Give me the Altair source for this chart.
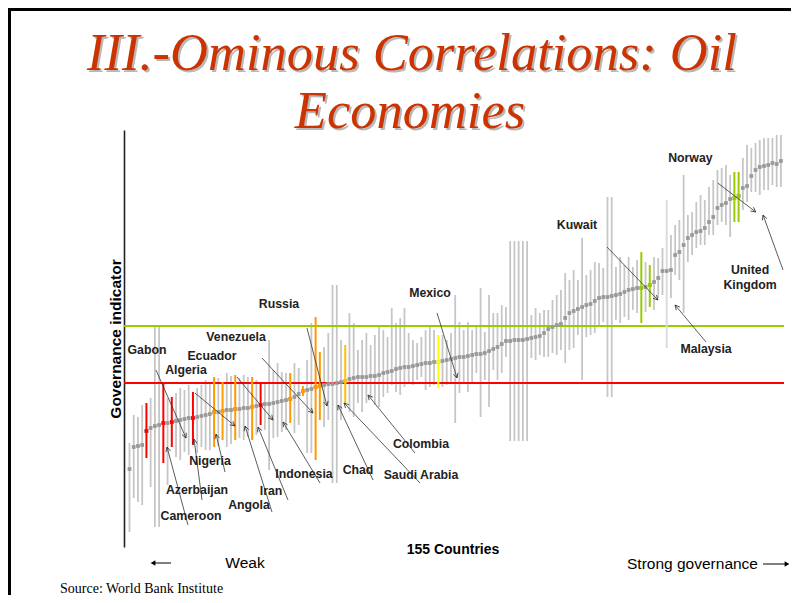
import math
import altair as alt
import pandas as pd

# ---------------- data (governance estimate and its confidence band, 155 countries ranked) -------------
gov = [
    -1.29, -1.07, -1.06, -1.05, -0.91, -0.88, -0.86, -0.85, -0.83, -0.83,
    -0.82, -0.81, -0.80, -0.79, -0.78, -0.78, -0.77, -0.76, -0.75, -0.74,
    -0.72, -0.72, -0.71, -0.70, -0.70, -0.69, -0.69, -0.68, -0.68, -0.67,
    -0.66, -0.65, -0.64, -0.64, -0.63, -0.62, -0.61, -0.60, -0.59, -0.57,
    -0.54, -0.51, -0.50, -0.49, -0.47, -0.46, -0.45, -0.44, -0.44, -0.43,
    -0.42, -0.41, -0.39, -0.38, -0.37, -0.37, -0.37, -0.36, -0.36, -0.35,
    -0.33, -0.32, -0.31, -0.29, -0.28, -0.27, -0.27, -0.26, -0.25, -0.24,
    -0.23, -0.23, -0.22, -0.22, -0.21, -0.20, -0.19, -0.18, -0.17, -0.17,
    -0.16, -0.15, -0.14, -0.14, -0.13, -0.11, -0.09, -0.07, -0.04, -0.01,
    -0.01, 0.00, 0.00, 0.00, 0.01, 0.02, 0.03, 0.04, 0.07, 0.11,
    0.13, 0.15, 0.16, 0.22, 0.27, 0.29, 0.31, 0.33, 0.35, 0.36,
    0.39, 0.42, 0.43, 0.43, 0.44, 0.45, 0.46, 0.48, 0.50, 0.51,
    0.52, 0.52, 0.53, 0.55, 0.58, 0.62, 0.69, 0.69, 0.70, 0.85,
    0.88, 0.95, 1.02, 1.05, 1.08, 1.09, 1.12, 1.18, 1.23, 1.32,
    1.35, 1.37, 1.41, 1.42, 1.44, 1.52, 1.54, 1.64, 1.70, 1.73,
    1.74, 1.75, 1.77, 1.76, 1.79,
]
upper = [
    -1.03, -0.75, -0.77, -0.65, -0.63, -0.58, 0.13, 0.13, -0.43, -0.58,
    -0.57, -0.53, -0.48, -0.50, -0.45, -0.52, -0.48, -0.45, -0.40, -0.43,
    -0.37, -0.38, -0.42, -0.33, -0.36, -0.35, -0.38, -0.35, -0.37, -0.37,
    -0.40, -0.43, -0.43, 0.00, -0.30, -0.23, -0.32, -0.33, -0.33, -0.23,
    -0.28, -0.46, -0.20, 0.17, 0.23, -0.12, -0.07, 0.07, 0.55, 0.55,
    0.00, -0.05, 0.27, 0.17, -0.10, 0.00, 0.07, -0.05, 0.05, 0.13,
    0.10, 0.03, 0.32, 0.17, 0.22, 0.32, 0.07, 0.00, -0.03, 0.03,
    0.10, 0.13, 0.10, 0.05, 0.05, 0.00, 0.07, 0.45, 0.18, 0.10,
    0.18, 0.10, 0.13, 0.52, 0.08, 0.45, 0.27, 0.27, 0.35, 0.33,
    0.99, 0.99, 0.99, 0.99, 0.99, 0.25, 0.32, 0.27, 0.30, 0.30,
    0.40, 0.45, 0.50, 0.67, 0.60, 0.70, 0.60, 1.02, 0.65, 0.70,
    0.78, 0.77, 0.72, 1.43, 1.43, 0.73, 0.83, 0.75, 0.83, 0.73,
    0.80, 0.88, 0.78, 0.75, 0.83, 0.82, 0.92, 1.40, 1.05, 1.15,
    1.20, 1.65, 1.25, 1.28, 1.38, 1.45, 1.40, 1.53, 1.60, 1.70,
    1.72, 1.75, 1.65, 1.68, 1.68, 1.82, 1.95, 1.92, 1.97, 2.00,
    2.02, 2.02, 2.02, 2.05, 2.05,
]
lower = [
    -1.92, -1.58, -1.62, -1.65, -1.18, -1.47, -1.87, -1.87, -1.23, -1.45,
    -1.07, -1.17, -1.20, -1.12, -1.15, -1.05, -1.13, -1.07, -1.10, -1.10,
    -1.07, -1.06, -1.00, -1.07, -1.04, -1.00, -0.98, -1.00, -0.97, -1.00,
    -0.95, -0.85, -0.90, -1.30, -0.98, -0.97, -0.92, -0.90, -0.83, -0.93,
    -0.85, -0.56, -1.13, -1.13, -1.20, -0.80, -0.87, -0.80, -1.43, -1.43,
    -0.80, -0.64, -0.72, -0.77, -0.63, -0.72, -0.63, -0.58, -0.65, -0.67,
    -0.57, -0.53, -0.45, -0.52, -0.55, -0.47, -0.42, -0.45, -0.40, -0.37,
    -0.50, -0.47, -0.45, -0.48, -0.47, -0.45, -0.43, -0.83, -0.53, -0.43,
    -0.52, -0.43, -0.33, -0.77, -0.40, -0.67, -0.30, -0.40, -0.33, -0.17,
    -1.01, -1.01, -1.01, -1.01, -1.01, -0.18, -0.20, -0.15, -0.17, -0.17,
    -0.13, -0.15, -0.10, -0.23, -0.10, -0.08, 0.05, -0.40, 0.03, 0.05,
    0.07, 0.13, 0.18, -0.57, -0.57, 0.20, 0.17, 0.23, 0.20, 0.30,
    0.27, 0.17, 0.28, 0.33, 0.30, 0.42, 0.45, -0.08, 0.42, 0.65,
    0.60, 0.27, 0.78, 0.85, 0.92, 0.95, 0.95, 1.05, 1.05, 1.15,
    1.18, 1.15, 1.03, 1.18, 1.18, 1.30, 1.38, 1.48, 1.48, 1.45,
    1.50, 1.50, 1.55, 1.53, 1.53,
]

# highlighted oil economies: rank -> colour family
hl_rank = [5, 9, 11, 16, 32, 21, 23, 26, 30, 39, 42, 45, 46, 52, 74, 122, 124, 144, 145, 128]
hl_group = ["red"] * 5 + ["orange"] * 8 + ["amber", "yellow"] + ["green"] * 4 + ["pale"]
group_names = ["red", "orange", "amber", "yellow", "green", "pale"]
group_colors = ["#FF0000", "#FF9900", "#FFC000", "#FFFF00", "#99CC00", "#DCDCDC"]

weak_line = -0.43
strong_line = 0.14

label_text = ["Gabon", "Algeria", "Ecuador", "Venezuela", "Russia", "Mexico", "Kuwait", "Norway",
              "United", "Kingdom", "Malaysia", "Nigeria", "Azerbaijan", "Cameroon", "Iran", "Angola",
              "Indonesia", "Chad", "Saudi Arabia", "Colombia"]
label_rank = [5.14, 14.36, 20.50, 26.18, 36.34, 72.04, 106.79, 133.6, 147.7, 147.7, 137.3,
              20.03, 16.96, 15.54, 34.45, 29.25, 42.25, 55.02, 69.91, 69.91]
label_val = [-0.10, -0.30, -0.16, 0.03, 0.36, 0.47, 1.15, 1.82, 0.70, 0.55, -0.09,
             -1.21, -1.50, -1.76, -1.51, -1.65, -1.34, -1.30, -1.35, -1.04]

tail_rank = [7.26, 16.48, 26.41, 32.32, 42.96, 23.58, 18.14, 14.83, 34.69, 38.47, 46.04,
             58.57, 69.68, 68.49, 73.70, 113.88, 140.07, 155.5, 137.3]
tail_val = [-0.30, -0.53, -0.37, -0.18, 0.12, -1.32, -1.60, -1.85, -1.72, -1.60, -1.43,
            -1.40, -1.43, -1.13, 0.27, 0.93, 1.57, 0.70, -0.02]
head_rank = [14.36, 25.94, 34.92, 44.38, 47.69, 21.45, 16.25, 9.87, 28.31, 31.38, 37.29,
             50.29, 51.71, 57.38, 78.43, 125.94, 149.06, 150.78, 129.97]
head_val = [-0.98, -0.86, -0.80, -0.73, -0.66, -0.94, -0.99, -1.07, -0.86, -0.87, -0.82,
            -0.65, -0.63, -0.55, -0.38, 0.40, 1.28, 1.25, 0.35]

# ---------------- frames ----------------
n = len(gov)
group = ["none"] * n
for r, g in zip(hl_rank, hl_group):
    group[r - 1] = g
df = pd.DataFrame({"rank": list(range(1, n + 1)), "gov": gov, "lo": lower, "hi": upper, "group": group})

W, H = 660, 417
X_DOMAIN = [-0.30, 155.73]
Y_DOMAIN = [-2.07, 2.10]
px_r = W / (X_DOMAIN[1] - X_DOMAIN[0])
px_v = H / (Y_DOMAIN[1] - Y_DOMAIN[0])

angles = []
for tr, tv, hr, hv in zip(tail_rank, tail_val, head_rank, head_val):
    dx = (hr - tr) * px_r
    dy = -(hv - tv) * px_v
    angles.append(math.degrees(math.atan2(dx, -dy)) % 360)
arrows = pd.DataFrame({"tr": tail_rank, "tv": tail_val, "hr": head_rank, "hv": head_val, "ang": angles})
labels = pd.DataFrame({"t": label_text, "r": label_rank, "v": label_val})
levels = pd.DataFrame({"v": [weak_line, strong_line]})

xs = alt.Scale(domain=X_DOMAIN, nice=False, zero=False)
ys = alt.Scale(domain=Y_DOMAIN, nice=False, zero=False)
yaxis = alt.Axis(ticks=False, labels=False, grid=False, domain=True, domainColor="#222",
                 domainWidth=1.6, title="Governance indicator", titleFont="Liberation Sans",
                 titleFontSize=15.5, titleFontWeight="bold", titleColor="#000", titlePadding=1)


def X(f):
    return alt.X(f, type="quantitative", scale=xs, axis=None)


def Y(f):
    return alt.Y(f, type="quantitative", scale=ys, axis=yaxis)


gcolor = alt.Color("group:N", scale=alt.Scale(domain=group_names, range=group_colors), legend=None)

gray_bars = alt.Chart(df).transform_filter("datum.group == 'none'").mark_rule(
    strokeWidth=1.8, color="#C6C6C6").encode(x=X("rank"), y=Y("lo"), y2="hi")
col_bars = alt.Chart(df).transform_filter("datum.group != 'none'").mark_rule(
    strokeWidth=2).encode(x=X("rank"), y=Y("lo"), y2="hi", color=gcolor)
weak = alt.Chart(levels).transform_filter("datum.v < 0").mark_rule(
    strokeWidth=2, color="#FF0000").encode(y=Y("v"))
strong = alt.Chart(levels).transform_filter("datum.v > 0").mark_rule(
    strokeWidth=2, color="#99CC00").encode(y=Y("v"))
dots = alt.Chart(df).mark_square(size=14, color="#999999", opacity=1).encode(x=X("rank"), y=Y("gov"))
col_dots = alt.Chart(df).transform_filter(
    "datum.group != 'none' && datum.group != 'pale'").mark_square(size=14, opacity=1).encode(
    x=X("rank"), y=Y("gov"), color=gcolor)
arrow_lines = alt.Chart(arrows).mark_rule(strokeWidth=0.8, color="#333333").encode(
    x=X("tr"), y=Y("tv"), x2="hr", y2="hv")
arrow_heads = alt.Chart(arrows).mark_point(
    shape="M-0.5,1L0,0L0.5,1", filled=False, size=90, strokeWidth=0.8, color="#333333", opacity=1).encode(
    x=X("hr"), y=Y("hv"), angle=alt.Angle("ang:Q", scale=None))
label_marks = alt.Chart(labels).mark_text(
    font="Liberation Sans", fontSize=12.3, fontWeight="bold", color="#222222",
    align="center", baseline="middle").encode(x=X("r"), y=Y("v"), text="t:N")

one = pd.DataFrame({"k": [0]})


def deco_text(txt, x, y, **kw):
    return alt.Chart(pd.DataFrame({"t": [txt]})).mark_text(**kw).encode(
        x=alt.value(x), y=alt.value(y), text="t:N")


def deco_rule(x, x2, y, y2, **kw):
    return alt.Chart(one).mark_rule(**kw).encode(
        x=alt.value(x), x2=alt.value(x2), y=alt.value(y), y2=alt.value(y2))


title_kw = dict(font="Liberation Serif", fontStyle="italic", fontSize=52.5, align="center",
                baseline="alphabetic")
decor = [
    deco_rule(-116, 667, -120.5, -120.5, color="#000", strokeWidth=3),
    deco_rule(-114.5, -114.5, -122, 465, color="#000", strokeWidth=3),
    deco_text("III.-Ominous Correlations: Oil", 290, -58, color="#B8B8B8", **title_kw),
    deco_text("III.-Ominous Correlations: Oil", 288, -60, color="#CC3300", **title_kw),
    deco_text("Economies", 288, 0, color="#B8B8B8", **title_kw),
    deco_text("Economies", 286, -2, color="#CC3300", **title_kw),
    deco_text("155 Countries", 329, 419.5, font="Liberation Sans", fontSize=14, fontWeight="bold",
              color="#000", align="center", baseline="middle"),
    deco_text("Weak", 121, 433, font="Liberation Sans", fontSize=15.5, color="#000",
              align="center", baseline="middle"),
    deco_text("Strong governance", 568.5, 434, font="Liberation Sans", fontSize=15.5, color="#000",
              align="center", baseline="middle"),
    deco_text("Source: World Bank Institute", -64, 458.5, font="Liberation Serif", fontSize=14,
              color="#000", align="left", baseline="middle"),
    deco_rule(30, 47, 433, 433, color="#000", strokeWidth=1),
    deco_rule(639, 662, 434, 434, color="#000", strokeWidth=1),
    alt.Chart(one).mark_point(shape="triangle-left", filled=True, size=30, color="#000", opacity=1).encode(
        x=alt.value(29), y=alt.value(433)),
    alt.Chart(one).mark_point(shape="triangle-right", filled=True, size=30, color="#000", opacity=1).encode(
        x=alt.value(663), y=alt.value(434)),
]

chart = alt.layer(
    gray_bars, weak, strong, col_bars, dots, col_dots, arrow_lines, arrow_heads, label_marks, *decor
).properties(
    width=W, height=H,
    autosize=alt.AutoSizeParams(type="none"),
    padding={"left": 116, "top": 122, "right": 7, "bottom": 48},
    background="white",
).configure_view(stroke=None)

chart.save("out.html", embed_options={"renderer": "svg", "actions": False})
